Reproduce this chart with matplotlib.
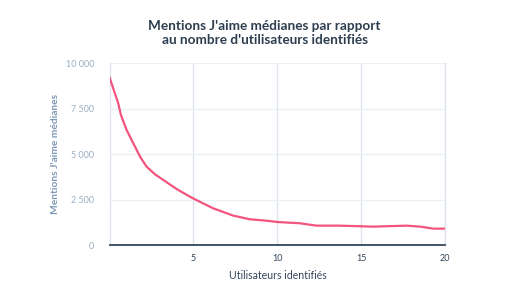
import matplotlib
matplotlib.use("Agg")
import matplotlib.pyplot as plt
from matplotlib.ticker import FuncFormatter

x_users = [0, 0.52, 0.68, 1.02, 1.42, 1.82, 2.21, 2.71, 3.3, 4.0, 4.69, 5.09, 6.18, 7.37, 8.36, 9.36, 10.0, 11.34, 12.33, 13.7, 15.0, 15.7, 17.7, 18.5, 19.3, 20.0]
likes = [9230, 7800, 7160, 6335, 5600, 4870, 4320, 3900, 3530, 3090, 2725, 2525, 2030, 1630, 1430, 1350, 1280, 1210, 1080, 1080, 1045, 1025, 1080, 1025, 915, 915]

x_ticks = [5, 10, 15, 20]
y_ticks = [0, 2500, 5000, 7500, 10000]

title = "Mentions J'aime médianes par rapport\nau nombre d'utilisateurs identifiés"
xlabel = "Utilisateurs identifiés"
ylabel = "Mentions J'aime médianes"

plt.rcParams['font.family'] = ['Lato', 'DejaVu Sans']

fig = plt.figure(figsize=(5.29, 3.01), dpi=100)
ax = fig.add_axes([109.5/529, 1-245.3/301, (445.3-109.5)/529, (245.3-63.3)/301])

ax.plot(x_users, likes, color='#f2547d', lw=1.6, solid_joinstyle='round', zorder=3)
ax.set_xlim(0, 20)
ax.set_ylim(0, 10000)
ax.set_xticks(x_ticks)
ax.set_yticks(y_ticks)
ax.yaxis.set_major_formatter(FuncFormatter(lambda v, p: f"{int(v):,}".replace(",", " ")))

ax.grid(axis='y', color='#eaf0f6', lw=1.0)
ax.grid(axis='x', color='#dfe3eb', lw=1.0)
ax.set_axisbelow(True)
for s in ['top', 'right', 'left']:
    ax.spines[s].set_color('#dfe3eb')
    ax.spines[s].set_linewidth(1.0)
ax.spines['top'].set_visible(False)
ax.spines['bottom'].set_color('#33475b')
ax.spines['bottom'].set_linewidth(1.3)
ax.spines['bottom'].set_zorder(4)

ax.tick_params(axis='both', length=0)
ax.tick_params(axis='y', labelsize=6.5, labelcolor='#99afc4', pad=11)
ax.tick_params(axis='x', labelsize=6.5, labelcolor='#33475b', pad=6)

ax.set_xlabel(xlabel, fontsize=7.6, color='#33475b', labelpad=5)
ax.set_ylabel(ylabel, fontsize=7.3, color='#7c98b6', fontweight='bold', labelpad=4)

fig.text(0.5, 1-33/301, title, ha='center', va='center', fontsize=9.8,
         fontweight='bold', color='#2d3e50', linespacing=1.25)

fig.savefig('out.png', dpi=100, facecolor='white')
